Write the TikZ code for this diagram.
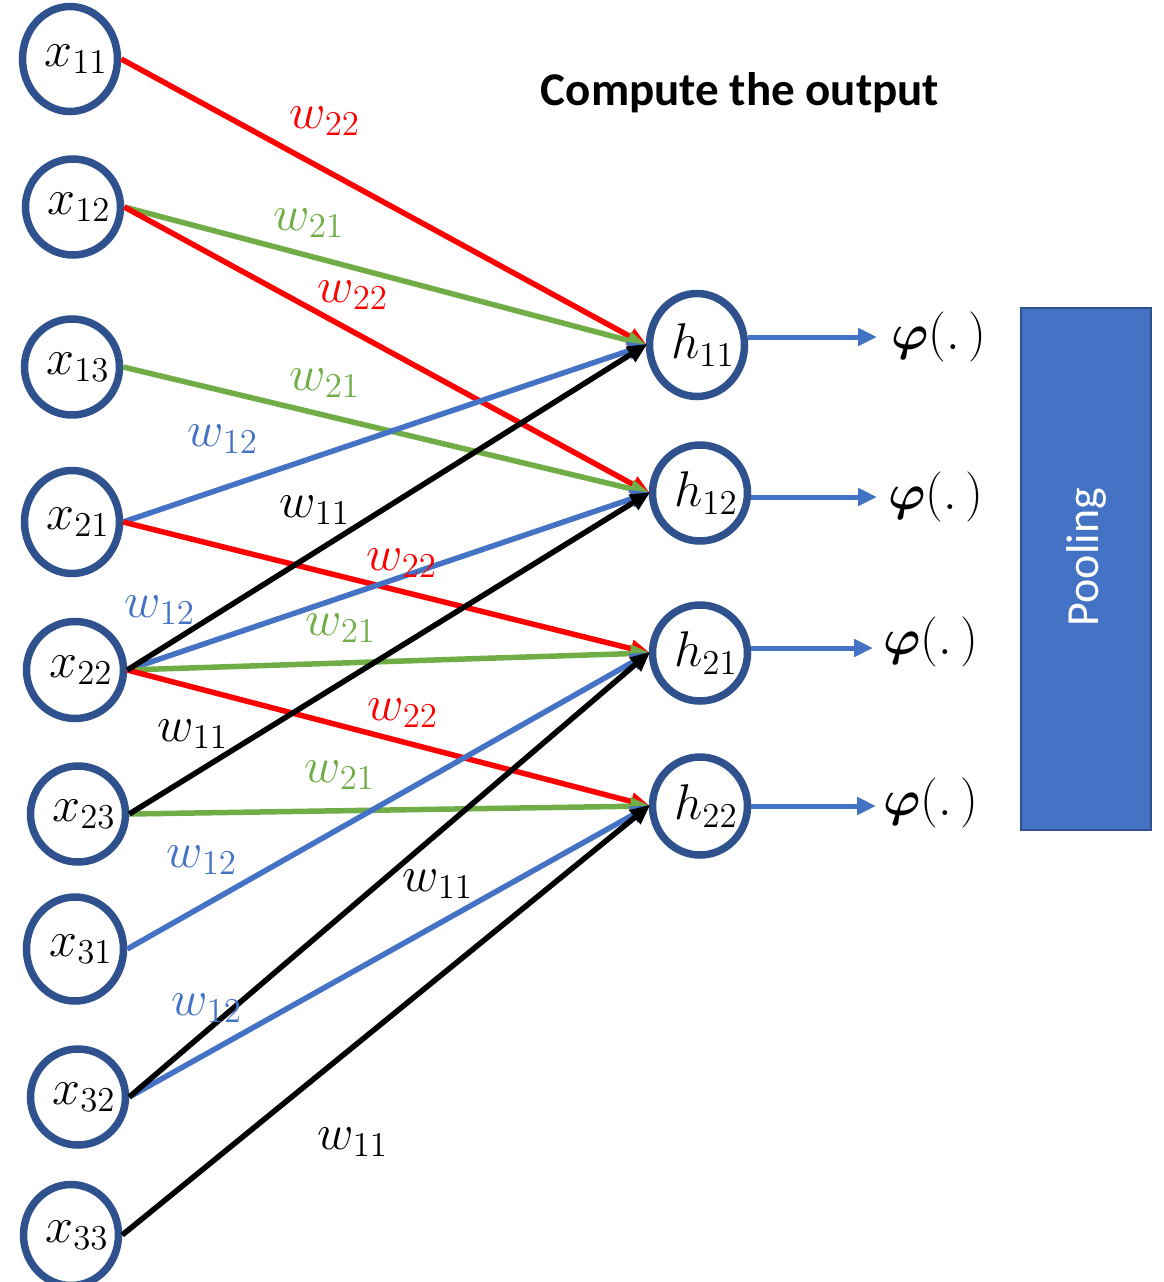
\documentclass[tikz,border=0pt]{standalone}
\usepackage{fontspec}
\usepackage{bm}
\newfontfamily\calibri{Carlito}
\usetikzlibrary{shapes.geometric,arrows.meta}
\definecolor{cborder}{HTML}{2F528F}
\definecolor{cblue}{HTML}{4472C4}
\definecolor{cgreen}{HTML}{70AD47}
\definecolor{cred}{HTML}{FF0000}
\newcommand{\bigmath}[1]{\scalebox{2.42}{\fontsize{20.74}{25}\selectfont$#1$}}
\newcommand{\ntxt}[1]{\makebox[0pt]{\hspace{12pt}\bigmath{#1}}}
\tikzset{
  neuron/.style={ellipse, draw=cborder, line width=7.5pt, fill=white, inner sep=0pt,
     minimum width=95pt, minimum height=96pt},
  conn/.style={line width=5.5pt, -{Triangle[length=20pt,width=17pt]}, shorten >=-2pt},
  wlab/.style={inner sep=0pt},
  outarrow/.style={cblue, line width=5pt, -{Triangle[length=19pt,width=17pt]}},
  phil/.style={inner sep=0pt, anchor=west}
}
\begin{document}
\begin{tikzpicture}[x=1pt,y=-1pt]
\useasboundingbox (0,0) rectangle (1163,1282);
% title
\node[font=\calibri\bfseries\fontsize{47}{56}\selectfont, inner sep=0pt] (title) at (740,93) {Compute the output};
% pooling
\node[draw=cborder, line width=1.5pt, fill=cblue, minimum width=130pt, minimum height=522pt, inner sep=0pt] (pool) at (1086,569) {};
\node[font=\calibri\fontsize{46}{55}\selectfont, text=white, rotate=90, inner sep=0pt] (pooltxt) at (1086,557) {Pooling};
% input neurons
\node[neuron, minimum height=105pt] (x11) at (70,59) {\ntxt{x_{11}}};
\node[neuron] (x12) at (73,207) {\ntxt{x_{12}}};
\node[neuron] (x13) at (72,367) {\ntxt{x_{13}}};
\node[neuron, minimum height=103pt] (x21) at (72,522) {\ntxt{x_{21}}};
\node[neuron, minimum width=97pt, minimum height=97pt] (x22) at (75,670) {\ntxt{x_{22}}};
\node[neuron] (x23) at (78,814) {\ntxt{x_{23}}};
\node[neuron, minimum width=97pt, minimum height=104pt] (x31) at (75,949) {\ntxt{x_{31}}};
\node[neuron] (x32) at (78,1097) {\ntxt{x_{32}}};
\node[neuron, minimum height=101pt] (x33) at (71,1235) {\ntxt{x_{33}}};
% hidden neurons
\node[neuron, minimum height=103pt] (h11) at (697,345) {\ntxt{h_{11}}};
\node[neuron] (h12) at (700,493) {\ntxt{h_{12}}};
\node[neuron] (h21) at (700,653) {\ntxt{h_{21}}};
\node[neuron, minimum height=98pt] (h22) at (700,806) {\ntxt{h_{22}}};
% connections
\draw[conn, cred]   (x11.east) -- (h11.west);
\draw[conn, cgreen] (x12.east) -- (h11.west);
\draw[conn, cred]   (x12.east) -- (h12.west);
\draw[conn, cgreen] (x13.east) -- (h12.west);
\draw[conn, cblue]  (x21.east) -- (h11.west);
\draw[conn, cred]   (x21.east) -- (h21.west);
\draw[conn, cblue]  (x22.east) -- (h12.west);
\draw[conn, cgreen] (x22.east) -- (h21.west);
\draw[conn, cred]   (x22.east) -- (h22.west);
\draw[conn, black]  (x22.east) -- (h11.west);
\draw[conn, cgreen] (x23.east) -- (h22.west);
\draw[conn, black]  (x23.east) -- (h12.west);
\draw[conn, cblue]  (x31.east) -- (h21.west);
\draw[conn, cblue]  (x32.east) -- (h22.west);
\draw[conn, black]  (x32.east) -- (h21.west);
\draw[conn, black]  (x33.east) -- (h22.west);
% weight labels
\node[wlab, text=cred]   (l1)  at (325,121)  {\bigmath{w_{22}}};
\node[wlab, text=cgreen] (l2)  at (309,223)  {\bigmath{w_{21}}};
\node[wlab, text=cred]   (l3)  at (353,295)  {\bigmath{w_{22}}};
\node[wlab, text=cgreen] (l4)  at (325,383)  {\bigmath{w_{21}}};
\node[wlab, text=cblue]  (l5)  at (223,439)  {\bigmath{w_{12}}};
\node[wlab, text=black]  (l6)  at (315,510)  {\bigmath{w_{11}}};
\node[wlab, text=cred]   (l7)  at (402,563)  {\bigmath{w_{22}}};
\node[wlab, text=cblue]  (l8)  at (160,610)  {\bigmath{w_{12}}};
\node[wlab, text=cgreen] (l9)  at (341,628)  {\bigmath{w_{21}}};
\node[wlab, text=black]  (l10) at (193,734)  {\bigmath{w_{11}}};
\node[wlab, text=cred]   (l11) at (403,713)  {\bigmath{w_{22}}};
\node[wlab, text=cgreen] (l12) at (340,775)  {\bigmath{w_{21}}};
\node[wlab, text=cblue]  (l13) at (202,860)  {\bigmath{w_{12}}};
\node[wlab, text=black]  (l14) at (438,884)  {\bigmath{w_{11}}};
\node[wlab, text=cblue]  (l15) at (207,1008) {\bigmath{w_{12}}};
\node[wlab, text=black]  (l16) at (353,1142) {\bigmath{w_{11}}};
% activation outputs
\node[phil] (p1) at (891,337) {\bigmath{\bm{\varphi}(.\,)}};
\node[phil] (p2) at (888,497) {\bigmath{\bm{\varphi}(.\,)}};
\node[phil] (p3) at (883,642) {\bigmath{\bm{\varphi}(.\,)}};
\node[phil] (p4) at (883,803) {\bigmath{\bm{\varphi}(.\,)}};
\coordinate (t1) at (877,337);
\coordinate (t2) at (877,497);
\coordinate (t3) at (873,648);
\coordinate (t4) at (876,806);
\draw[outarrow] (h11.east |- t1) -- (t1);
\draw[outarrow] (h12.east |- t2) -- (t2);
\draw[outarrow] (h21.east |- t3) -- (t3);
\draw[outarrow] (h22.east |- t4) -- (t4);
\end{tikzpicture}
\end{document}
